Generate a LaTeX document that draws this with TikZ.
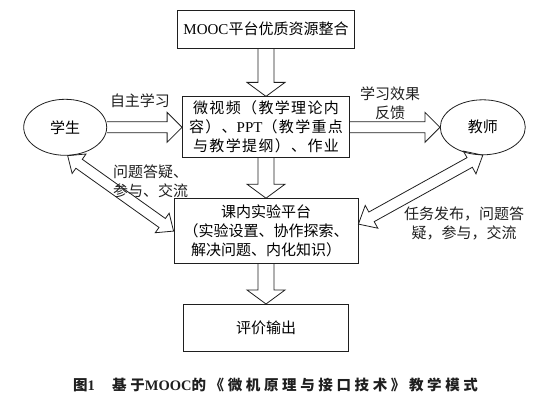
\documentclass[tikz,border=0pt]{standalone}
\usepackage{fontspec}
\setmainfont{Liberation Serif}
\newfontfamily\cjk{Noto Sans CJK SC}
\newfontfamily\cjkwide[LetterSpace=9]{Noto Sans CJK SC}
\newfontfamily\cjkcap[LetterSpace=25]{Noto Sans CJK SC}
\usepackage{tikz}
\usetikzlibrary{shapes.geometric}
\usetikzlibrary{calc}
\usetikzlibrary{positioning}
\definecolor{inkgray}{rgb}{0.12,0.12,0.12}

\tikzset{
  box/.style={draw=inkgray,line width=0.8pt,align=center,inner sep=2pt,font=\cjk\fontsize{15}{19}\selectfont},
  bubble/.style={draw=inkgray,line width=0.8pt,ellipse,inner sep=0pt,font=\cjk\fontsize{15}{19}\selectfont},
  lbl/.style={inner sep=0pt,text=inkgray,font=\cjk\fontsize{15}{19}\selectfont},
  fat/.style={draw=inkgray,line width=0.8pt,line join=miter}
}

\newcommand{\fatarrow}[5]{%
  \coordinate (fa) at ($(#2)!#5!(#1)$);
  \draw[fat] ($(#1)!#3!90:(#2)$) -- ($(fa)!#3!-90:(#1)$) -- ($(fa)!#4!-90:(#1)$) -- (#2)
    -- ($(fa)!#4!90:(#1)$) -- ($(fa)!#3!90:(#1)$) -- ($(#1)!#3!-90:(#2)$);}
\newcommand{\fatboth}[5]{%
  \coordinate (fa) at ($(#1)!#5!(#2)$);
  \coordinate (fb) at ($(#2)!#5!(#1)$);
  \draw[fat] (#1) -- ($(fa)!#4!90:(#2)$) -- ($(fa)!#3!90:(#2)$) -- ($(fb)!#3!-90:(#1)$) -- ($(fb)!#4!-90:(#1)$) -- (#2)
    -- ($(fb)!#4!90:(#1)$) -- ($(fb)!#3!90:(#1)$) -- ($(fa)!#3!-90:(#2)$) -- ($(fa)!#4!-90:(#2)$) -- cycle;}

\begin{document}
\begin{tikzpicture}[x=1pt,y=-1pt]
\useasboundingbox (0,0) rectangle (550,404);

\node[box,minimum width=177pt,minimum height=38pt] (mooc) at (266,29) {{\rmfamily MOOC}平台优质资源整合};
\node[box,font=\cjkwide\fontsize{15}{19}\selectfont,minimum width=167pt,minimum height=61pt,below=48pt of mooc] (micro)
  {微视频（教学理论内\\容）、{\rmfamily PPT}（教学重点\\与教学提纲）、作业};
\node[box,minimum width=184pt,minimum height=65pt,below=40pt of micro] (lab)
  {课内实验平台\\（实验设置、协作探索、\\解决问题、内化知识）};
\node[box,minimum width=165pt,minimum height=47pt,below=40pt of lab] (eval) {评价输出};
\node[bubble,minimum width=83pt,minimum height=56pt,left=75pt of micro] (stu) {学生};
\node[bubble,minimum width=85pt,minimum height=55pt,right=90pt of micro] (tea) {教师};
\coordinate (labr) at ([yshift=7pt]lab.east);

\fatarrow{mooc.south}{micro.north}{8pt}{19pt}{14pt}
\fatarrow{micro.south}{lab.north}{8pt}{19pt}{14pt}
\fatarrow{lab.south}{eval.north}{8pt}{19pt}{14pt}
\fatarrow{stu.east}{micro.west}{5.5pt}{15pt}{15pt}
\fatarrow{micro.east}{tea.west}{5.5pt}{15pt}{15pt}
\fatboth{stu.-85}{lab.west}{5.5pt}{12pt}{14pt}
\fatboth{labr}{tea.south}{5.5pt}{13pt}{15pt}

\node[lbl] (lself) at (140,101) {自主学习};
\node[lbl,align=center] (lfeed) at (390,103) {学习效果\\反馈};
\node[lbl,align=left,anchor=west] (lask) at (113,181) {问题答疑、\\参与、交流};
\node[lbl,align=center] (ltask) at (464,223) {任务发布，问题答\\疑，参与，交流};
\node[inner sep=0pt,text=inkgray,font=\cjkcap\bfseries\fontsize{14.5}{17}\selectfont] (cap) at (275.5,385)
  {图{\rmfamily 1}\hspace{1.2em}基于{\rmfamily MOOC}的《微机原理与接口技术》教学模式};
\end{tikzpicture}
\end{document}
